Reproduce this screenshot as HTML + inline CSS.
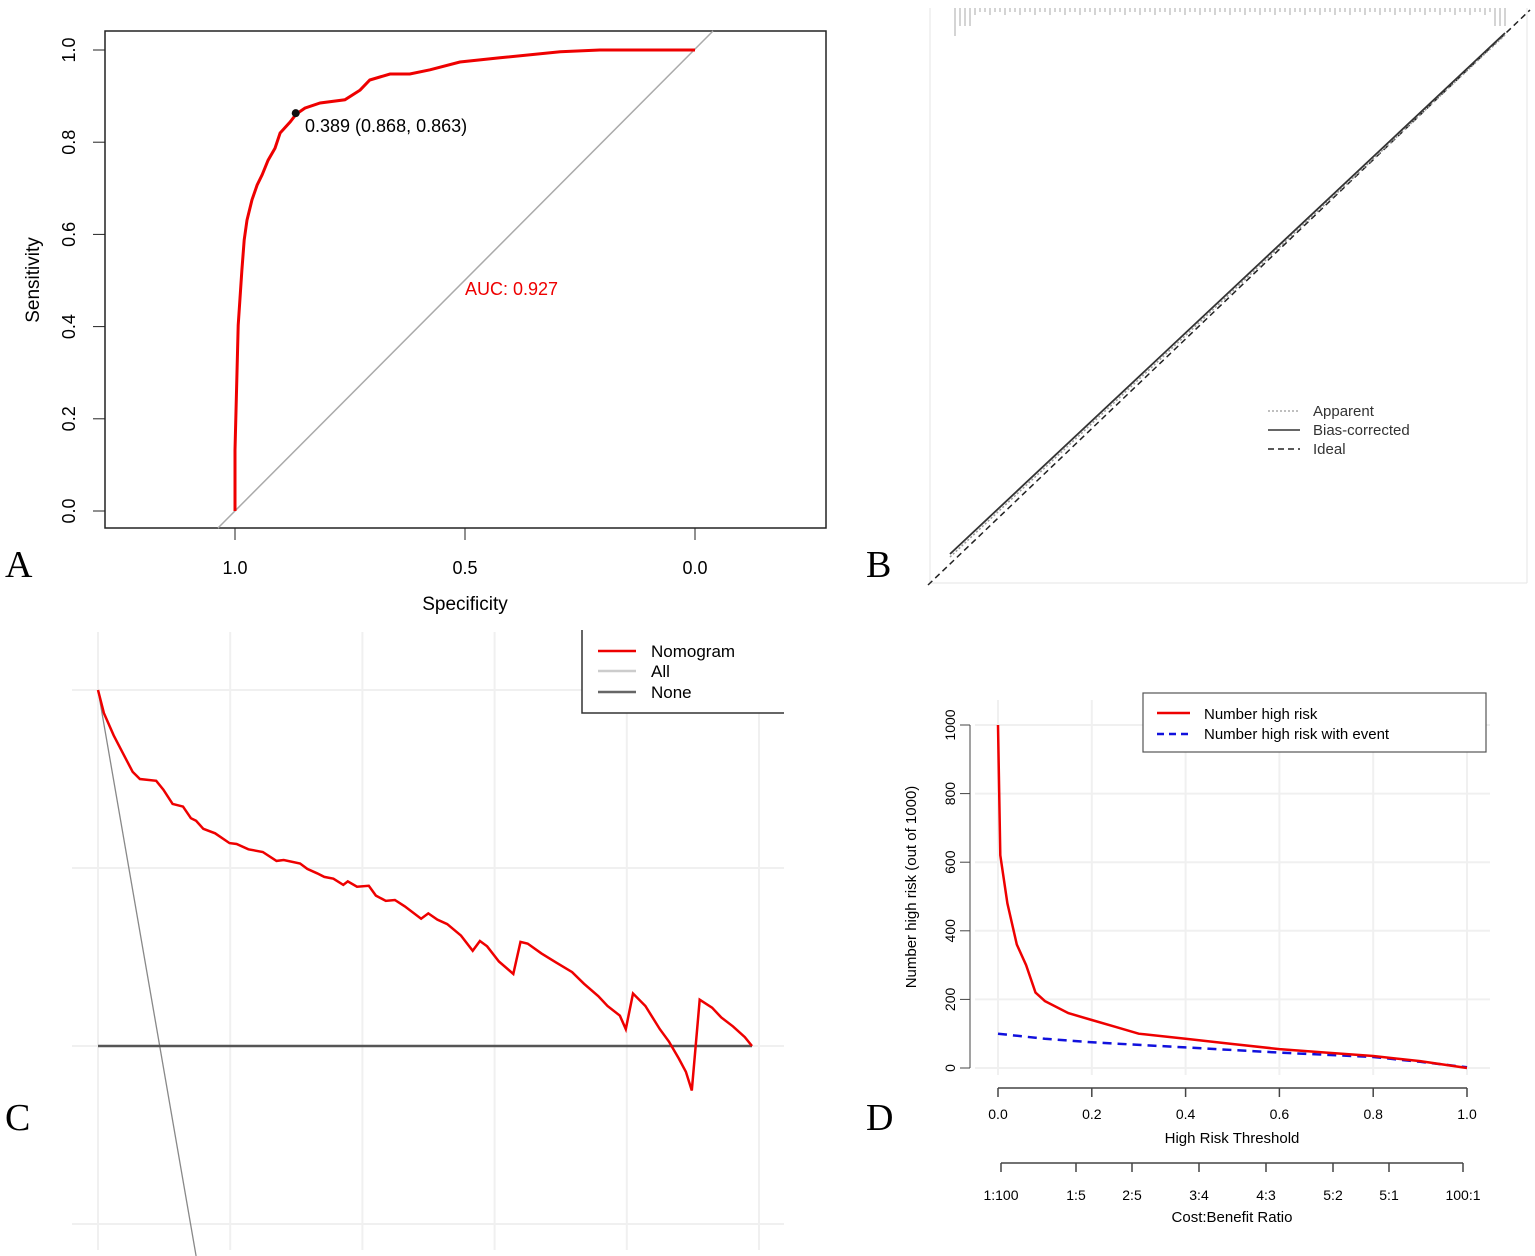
<!DOCTYPE html>
<html><head><meta charset="utf-8"><style>
html,body{margin:0;padding:0;background:#fff;}
svg{display:block;font-family:"Liberation Sans",sans-serif;}
.let{font-family:"Liberation Serif",serif;font-size:38px;}
</style></head><body>
<svg id="fig" width="1535" height="1256" viewBox="0 0 1535 1256" xmlns="http://www.w3.org/2000/svg">
<!-- Panel A -->
<g id="pA">
<rect x="105" y="31" width="721" height="497" fill="none" stroke="#222" stroke-width="1.5"/>
<text x="465" y="610" font-size="19" text-anchor="middle">Specificity</text>
<text transform="translate(39,280) rotate(-90)" font-size="19" text-anchor="middle">Sensitivity</text>
<text x="465" y="295" font-size="18" fill="#e00">AUC: 0.927</text>
<text x="305" y="132" font-size="18">0.389 (0.868, 0.863)</text>
<text x="5" y="577" class="let">A</text>
</g>
<!-- Panel B -->
<g id="pB">
<line x1="930" y1="8" x2="930" y2="583" stroke="#e6e6e6"/>
<line x1="930" y1="583" x2="1527" y2="583" stroke="#e6e6e6"/>
<line x1="1527" y1="8" x2="1527" y2="583" stroke="#e6e6e6"/>
<line x1="928" y1="585" x2="1530" y2="10" stroke="#222" stroke-width="1.5" stroke-dasharray="6,4"/>
<line x1="950" y1="557" x2="1505" y2="35" stroke="#999" stroke-width="1.5" stroke-dasharray="2,2"/>
<line x1="950" y1="554" x2="1505" y2="33" stroke="#333" stroke-width="1.8"/>
<g>
<line x1="1268" y1="411" x2="1300" y2="411" stroke="#aaa" stroke-width="1.5" stroke-dasharray="2,2"/>
<text x="1313" y="416" font-size="15" fill="#333">Apparent</text>
<line x1="1268" y1="430" x2="1300" y2="430" stroke="#333" stroke-width="1.5"/>
<text x="1313" y="435" font-size="15" fill="#333">Bias-corrected</text>
<line x1="1268" y1="449" x2="1300" y2="449" stroke="#222" stroke-width="1.5" stroke-dasharray="6,4"/>
<text x="1313" y="454" font-size="15" fill="#333">Ideal</text>
</g>
<text x="866" y="577" class="let">B</text>
</g>
<!-- Panel C -->
<g id="pC">
<text x="5" y="1130" class="let">C</text>
</g>
<!-- Panel D -->
<g id="pD">
<text transform="translate(916,887) rotate(-90)" font-size="15" text-anchor="middle">Number high risk (out of 1000)</text>
<text x="1232" y="1143" font-size="15" text-anchor="middle">High Risk Threshold</text>
<text x="1232" y="1222" font-size="15" text-anchor="middle">Cost:Benefit Ratio</text>
<text x="866" y="1130" class="let">D</text>
</g>
</svg>
<script>
// ---- Panel A data ----
const rocSpec = [1.0,1.0,0.996,0.993,0.985,0.980,0.974,0.963,0.952,0.941,0.928,0.913,0.902,0.880,0.867,0.848,0.815,0.761,0.728,0.707,0.663,0.620,0.576,0.511,0.424,0.293,0.207,0.0];
const rocSens = [0.0,0.132,0.284,0.403,0.523,0.588,0.631,0.675,0.707,0.729,0.761,0.787,0.820,0.844,0.861,0.874,0.885,0.892,0.913,0.935,0.948,0.948,0.957,0.974,0.983,0.996,1.0,1.0];
const rocTicksX = [1.0,0.5,0.0];
const rocTicksY = [0.0,0.2,0.4,0.6,0.8,1.0];
const cutoffPoint = [0.868,0.863];
// ---- Panel C data ----
const dcaThr = [0,0.009,0.024,0.038,0.053,0.064,0.089,0.100,0.114,0.130,0.142,0.150,0.161,0.179,0.201,0.212,0.230,0.252,0.273,0.284,0.309,0.320,0.335,0.346,0.360,0.375,0.382,0.396,0.414,0.425,0.440,0.454,0.469,0.494,0.505,0.519,0.534,0.555,0.573,0.584,0.595,0.613,0.635,0.646,0.657,0.678,0.700,0.725,0.743,0.765,0.779,0.798,0.807,0.818,0.837,0.859,0.873,0.888,0.899,0.908,0.920,0.939,0.953,0.971,0.989,1.0];
const dcaNomogram = [0.400,0.374,0.349,0.329,0.308,0.300,0.298,0.288,0.272,0.269,0.256,0.253,0.244,0.239,0.228,0.227,0.221,0.218,0.208,0.209,0.205,0.199,0.194,0.190,0.188,0.181,0.185,0.179,0.180,0.169,0.163,0.164,0.157,0.143,0.149,0.142,0.137,0.124,0.107,0.118,0.112,0.095,0.081,0.117,0.115,0.104,0.094,0.083,0.070,0.056,0.045,0.034,0.019,0.059,0.045,0.019,0.005,-0.014,-0.029,-0.050,0.052,0.043,0.032,0.022,0.010,0];
const dcaAllThr = [0,0.15];
const dcaAll = [0.4,-0.236];
const dcaGridX = [0,0.2,0.4,0.6,0.8,1.0];
const dcaGridY = [0.4,0.2,0,-0.2];
// ---- Panel D data ----
const cicThr = [0,0.005,0.02,0.04,0.06,0.08,0.1,0.15,0.2,0.25,0.3,0.4,0.5,0.6,0.7,0.8,0.9,1.0];
const cicHigh = [1000,620,480,360,300,220,195,160,140,120,100,85,70,55,45,35,20,0];
const cicEventThr = [0,0.1,0.2,0.4,0.6,0.8,0.9,1.0];
const cicEvent = [100,85,75,60,45,32,18,2];
const cicTicksY = [0,200,400,600,800,1000];
const cicTicksX = [0,0.2,0.4,0.6,0.8,1.0];
const cbLabels = ["1:100","1:5","2:5","3:4","4:3","5:2","5:1","100:1"];

const NS="http://www.w3.org/2000/svg";
function mk(tag, attrs, parent, txt){
  const e=document.createElementNS(NS,tag);
  for(const k in attrs) e.setAttribute(k,attrs[k]);
  if(txt!==undefined) e.textContent=txt;
  parent.appendChild(e); return e;
}
function pts(xs,ys,fx,fy){return xs.map((x,i)=>fx(x).toFixed(1)+","+fy(ys[i]).toFixed(1)).join(" ");}

// Panel A
(function(){
  const g=document.getElementById('pA');
  const ax=s=>235+(1-s)*460, ay=v=>511-v*461;
  const diag=mk('line',{x1:218,y1:528,x2:713,y2:31,stroke:'#aaa','stroke-width':1.5},g);
  
  
  const roc=mk('polyline',{points:pts(rocSpec,rocSens,ax,ay),fill:'none',stroke:'#e00','stroke-width':3},g);
  
  
  const pt=mk('circle',{cx:ax(cutoffPoint[0]),cy:ay(cutoffPoint[1]),r:4,fill:'#111'},g);
  
  
  mk('line',{x1:ax(1),y1:528,x2:ax(0),y2:528,stroke:'#222'},g);
  rocTicksX.forEach(v=>{
    const t=mk('line',{x1:ax(v),y1:528,x2:ax(v),y2:540,stroke:'#222'},g);
    
    
    const l=mk('text',{x:ax(v),y:574,'font-size':18,'text-anchor':'middle'},g,v.toFixed(1));
    
    
  });
  rocTicksY.forEach(v=>{
    const t=mk('line',{x1:93,y1:ay(v),x2:105,y2:ay(v),stroke:'#222'},g);
    
    
    const l=mk('text',{transform:`translate(75,${ay(v)}) rotate(-90)`,'font-size':18,'text-anchor':'middle'},g,v.toFixed(1));
    
    
  });
})();

// Panel B rug
(function(){
  const g=document.getElementById('pB');
  const rug=mk('g',{stroke:'#aaa','stroke-width':1},g);
  
  
  for(let x=955;x<=1505;x+=5){
    let h=(x%15===0)?7:4;
    if(x<975) h=18; if(x<960) h=28; if(x>1490) h=18;
    mk('line',{x1:x,y1:8,x2:x,y2:8+h},rug);
  }
})();

// Panel C
(function(){
  const g=document.getElementById('pC');
  const cx=t=>98+t*654, cy=v=>1046-v*890;
  dcaGridX.forEach(v=>{
    const l=mk('line',{x1:98+v*661,y1:632,x2:98+v*661,y2:1250,stroke:'#f0f0f0','stroke-width':2},g);
    
    
  });
  dcaGridY.forEach(v=>{
    const l=mk('line',{x1:72,y1:cy(v),x2:784,y2:cy(v),stroke:'#f0f0f0','stroke-width':2},g);
    
    
  });
  const all=mk('polyline',{points:pts(dcaAllThr,dcaAll,cx,cy),fill:'none',stroke:'#888','stroke-width':1.3},g);
  
  
  const none=mk('line',{x1:cx(0),y1:cy(0),x2:cx(1),y2:cy(0),stroke:'#555','stroke-width':2.5},g);
  
  
  const nom=mk('polyline',{points:pts(dcaThr,dcaNomogram,cx,cy),fill:'none',stroke:'#e00','stroke-width':2.5},g);
  
  
  const lg=mk('g',{},g);
  
  
  mk('rect',{x:582,y:630,width:202,height:83,fill:'#fff'},lg);
  mk('polyline',{points:'582,630 582,713 784,713',fill:'none',stroke:'#333','stroke-width':1.5},lg);
  [['Nomogram','#e00',651],['All','#ccc',671],['None','#666',692]].forEach(e=>{
    mk('line',{x1:598,y1:e[2],x2:636,y2:e[2],stroke:e[1],'stroke-width':2.5},lg);
    mk('text',{x:651,y:e[2]+6,'font-size':17},lg,e[0]);
  });
})();

// Panel D
(function(){
  const g=document.getElementById('pD');
  const dx=t=>998+t*469, dy=v=>1068-v*0.343;
  cicTicksX.forEach(v=>{
    const l=mk('line',{x1:dx(v),y1:700,x2:dx(v),y2:1075,stroke:'#f0f0f0','stroke-width':2},g);
    
    
  });
  cicTicksY.forEach(v=>{
    const l=mk('line',{x1:975,y1:dy(v),x2:1490,y2:dy(v),stroke:'#f0f0f0','stroke-width':2},g);
    
    
    const t=mk('line',{x1:960,y1:dy(v),x2:970,y2:dy(v),stroke:'#444'},g);
    
    
    const tl=mk('text',{transform:`translate(955,${dy(v)}) rotate(-90)`,'font-size':14,'text-anchor':'middle'},g,String(v));
    
    
  });
  mk('line',{x1:970,y1:dy(0),x2:970,y2:dy(1000),stroke:'#444'},g);
  mk('line',{x1:dx(0),y1:1088,x2:dx(1),y2:1088,stroke:'#444','stroke-width':1.5},g);
  cicTicksX.forEach(v=>{
    const t=mk('line',{x1:dx(v),y1:1088,x2:dx(v),y2:1097,stroke:'#444','stroke-width':1.5},g);
    
    
    const l=mk('text',{x:dx(v),y:1119,'font-size':14,'text-anchor':'middle'},g,v.toFixed(1));
    
    
  });
  const cbx=[1001,1076,1132,1199,1266,1333,1389,1463];
  mk('line',{x1:1001,y1:1163,x2:1463,y2:1163,stroke:'#444','stroke-width':1.5},g);
  cbLabels.forEach((s,i)=>{
    mk('line',{x1:cbx[i],y1:1163,x2:cbx[i],y2:1172,stroke:'#444','stroke-width':1.5},g);
    const l=mk('text',{x:cbx[i],y:1200,'font-size':14,'text-anchor':'middle'},g,s);
    
    
  });
  const ev=mk('polyline',{points:pts(cicEventThr,cicEvent,dx,dy),fill:'none',stroke:'#11d','stroke-width':2.5,'stroke-dasharray':'9,6'},g);
  
  
  const hr=mk('polyline',{points:pts(cicThr,cicHigh,dx,dy),fill:'none',stroke:'#e00','stroke-width':2.5},g);
  
  
  const lg=mk('g',{},g);
  
  
  mk('rect',{x:1143,y:693,width:343,height:59,fill:'#fff',stroke:'#555','stroke-width':1.2},lg);
  mk('line',{x1:1157,y1:713,x2:1190,y2:713,stroke:'#e00','stroke-width':2.5},lg);
  mk('text',{x:1204,y:719,'font-size':15},lg,'Number high risk');
  mk('line',{x1:1157,y1:734,x2:1190,y2:734,stroke:'#11d','stroke-width':2.5,'stroke-dasharray':'7,5'},lg);
  mk('text',{x:1204,y:739,'font-size':15},lg,'Number high risk with event');
})();
</script>
</body></html>
